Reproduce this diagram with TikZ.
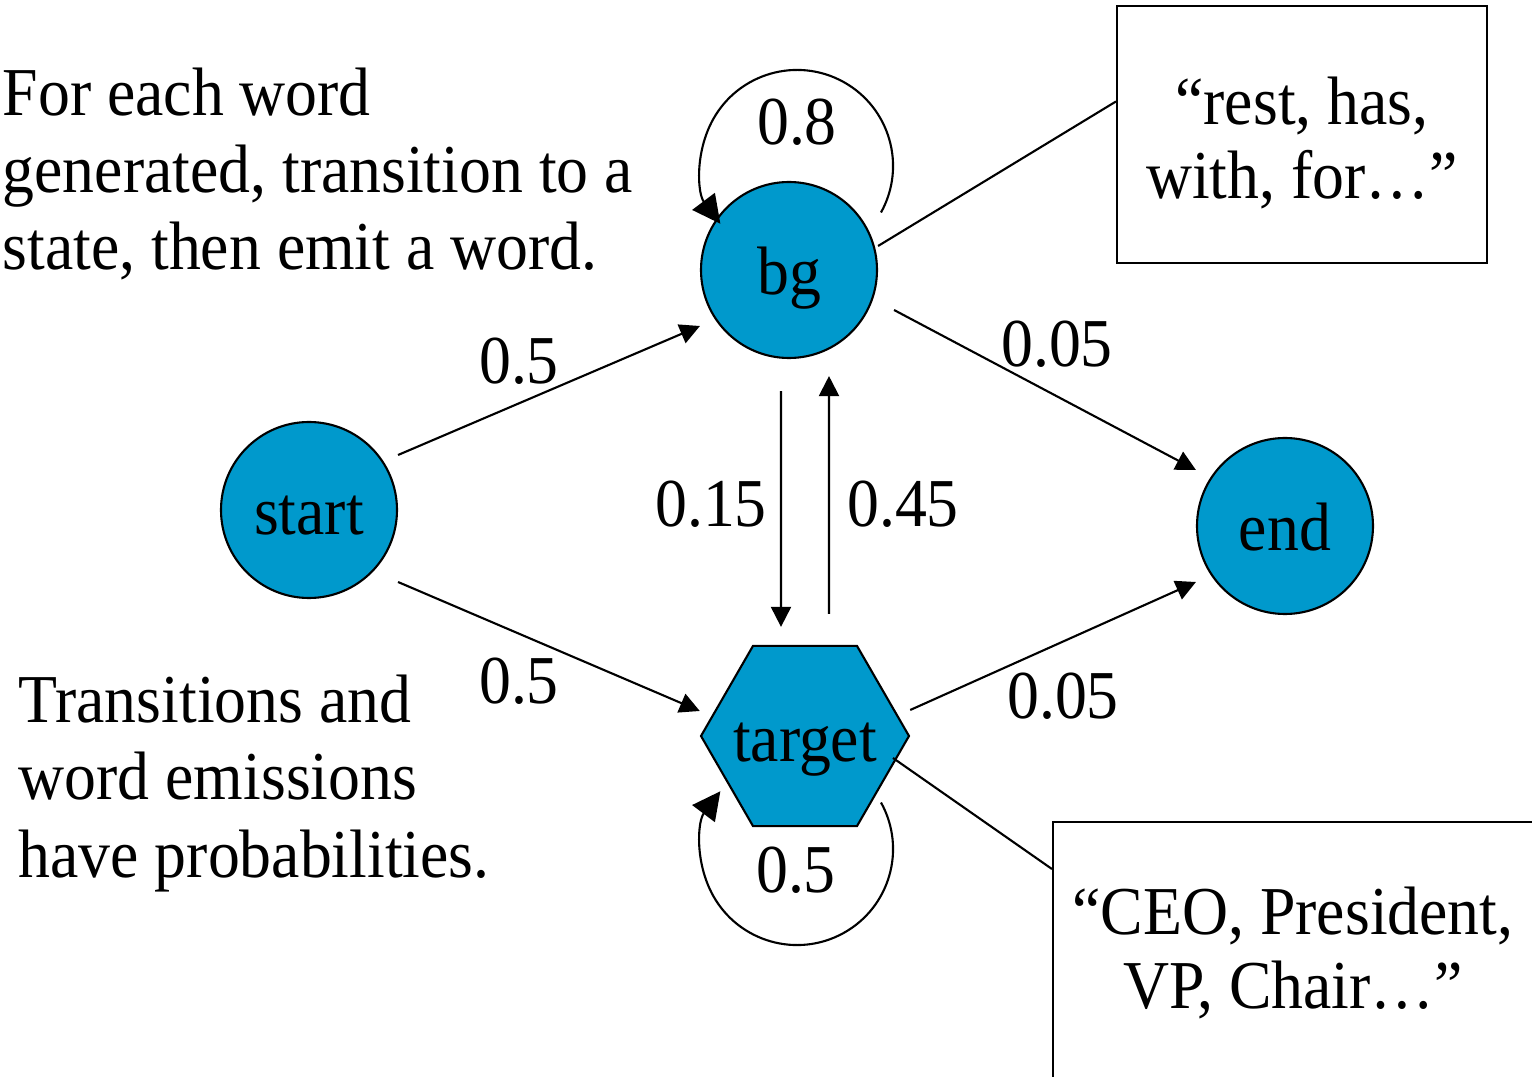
\documentclass[tikz,border=0pt]{standalone}
\usepackage{fontspec}
\setmainfont{Liberation Serif}[FakeStretch=0.93]
\usepackage{tikz}
\definecolor{stateblue}{RGB}{0,153,204}
\usetikzlibrary{
  arrows.meta,
  shapes.geometric,
  calc
}
\tikzset{
  big/.style={font=\fontsize{19.5}{22}\selectfont},
  state/.style={circle, draw, fill=stateblue, line width=0.6pt, minimum size=1.76cm, inner sep=0pt, text height=0.6cm, text depth=0.1cm, big},
  hexstate/.style={regular polygon, regular polygon sides=6, draw, fill=stateblue, line width=0.6pt, minimum size=2.08cm, inner sep=0pt, text height=0.6cm, text depth=0.1cm, big},
  prob/.style={big, anchor=base, inner sep=0pt},
  trans/.style={-{Triangle[length=2mm,width=2mm]}, line width=0.6pt},
  selftrans/.style={-{Triangle[length=2.8mm,width=2.8mm]}, line width=0.6pt},
  emitbox/.style={draw, line width=0.6pt, align=center, inner sep=0pt, font=\fontsize{19.5}{21}\selectfont},
  emitline/.style={line width=0.6pt},
  note/.style={big, align=left, anchor=base west, inner sep=0pt}
}

\begin{document}
\begin{tikzpicture}
  \useasboundingbox (0,0) rectangle (15.32,10.76);
  \clip (0,0) rectangle (15.32,10.76);

  % states
  \node[state] (start) at (3.09,5.66) {start};
  \node[state] (bg) at (7.89,8.06) {bg};
  \node[state] (endstate) at (12.85,5.50) {end};
  \node[hexstate] (target) at (8.05,3.40) {\makebox[0pt]{target}};

  % notes on the left (anchored at last baseline)
  \node[note] (howto) at (0.02,8.06) {For each word\\generated, transition to a\\state, then emit a word.};
  \node[note] (probnote) at (0.18,1.99) {Transitions and\\word emissions\\have probabilities.};

  % emitted words
  \node[emitbox, minimum width=3.70cm, minimum height=2.57cm] (bgwords) at (13.02,9.415) {\rule{0pt}{18.5pt}“rest, has,\\with, for…”};
  \node[emitbox, minimum width=4.80cm, minimum height=2.62cm] (targetwords) at (12.93,1.23) {“CEO, President,\\VP, Chair…”};

  % transitions
  \draw[trans] ([yshift=5.5mm]start.east) -- ([yshift=-5.6mm]bg.west);
  \draw[trans] ([yshift=-7.2mm]start.east) -- ([yshift=2.5mm]target.west);
  \draw[trans] ([shift={(1.6mm,-4mm)}]bg.east) -- ([yshift=5.6mm]endstate.west);
  \draw[trans] ([yshift=2.6mm]target.east) -- ([yshift=-5.6mm]endstate.west);
  \draw[trans] ([shift={(-0.8mm,-3.2mm)}]bg.south) -- ([shift={(-2.4mm,1.8mm)}]target.north);
  \draw[trans] ([shift={(2.4mm,3.1mm)}]target.north) -- ([shift={(4mm,-1.7mm)}]bg.south);

  % self loops
  \draw[selftrans] ([shift={(9.2mm,5.75mm)}]bg.center) arc[start angle=-29, end angle=217, radius=0.96cm];
  \draw[selftrans] ([shift={(7.6mm,-6.65mm)}]target.center) arc[start angle=29, end angle=-217, radius=0.96cm];

  % emissions
  \draw[emitline] ([yshift=2.4mm]bg.east) -- ([yshift=3.3mm]bgwords.west);
  \draw[emitline] ([shift={(8.8mm,-2.2mm)}]target.center) -- ([yshift=8.4mm]targetwords.west);

  % probabilities
  \node[prob] (pstartbg) at (5.19,6.92) {0.5};
  \node[prob] (pstarttg) at (5.19,3.72) {0.5};
  \node[prob] (pbgend) at (10.57,7.09) {0.05};
  \node[prob] (ptgend) at (10.63,3.57) {0.05};
  \node[prob] (pbgtg) at (7.11,5.49) {0.15};
  \node[prob] (ptgbg) at (9.03,5.49) {0.45};
  \node[prob] (pbgbg) at (7.97,9.31) {0.8};
  \node[prob] (ptgtg) at (7.96,1.84) {0.5};
\end{tikzpicture}
\end{document}
